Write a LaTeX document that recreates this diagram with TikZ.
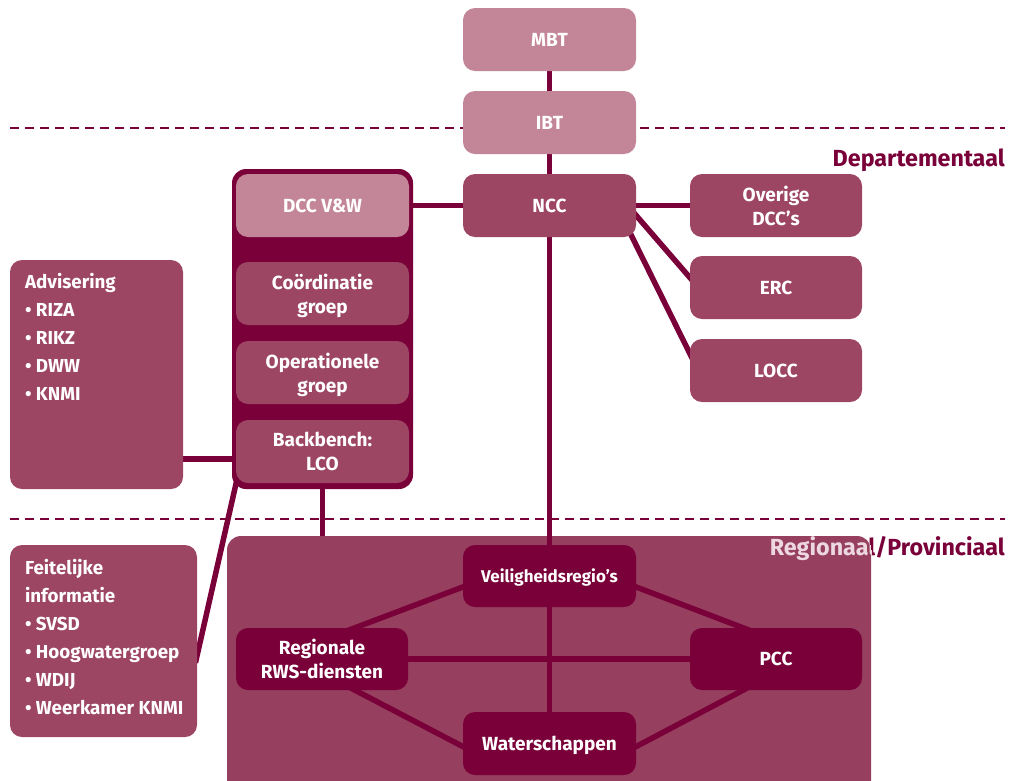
\documentclass[tikz,border=0pt]{standalone}
\usepackage{fontspec}
\setmainfont{Fira Sans}
\usetikzlibrary{calc}
\definecolor{lpink}{HTML}{C38698}
\definecolor{mpink}{HTML}{9D4664}
\definecolor{dpurple}{HTML}{790038}
\definecolor{regfill}{HTML}{963F5E}
\definecolor{ltext}{HTML}{EDD8E0}
\pgfdeclarelayer{back}
\pgfdeclarelayer{bg}
\pgfsetlayers{back,bg,main}
\begin{document}
\begin{tikzpicture}[x=1pt,y=-1pt,
  box/.style={rounded corners=12pt, minimum width=173pt, minimum height=63pt, inner sep=0pt,
    text depth=0pt, align=center, text=white, font=\bfseries\fontsize{19}{24}\selectfont},
  lbox/.style={box, fill=lpink},
  mbox/.style={box, fill=mpink},
  dbox/.style={box, fill=dpurple, minimum height=62pt},
  listtext/.style={anchor=north west, inner sep=0pt, align=left, text=white,
    font=\bfseries\fontsize{18.8}{28}\selectfont},
  conn/.style={draw=dpurple, line width=5.5pt},
  sep/.style={draw=dpurple, line width=2.5pt, dash pattern=on 9pt off 6pt},
  level/.style={anchor=base east, inner sep=0pt, text=dpurple, font=\bfseries\fontsize{23.3}{26}\selectfont}
]
\useasboundingbox (0,0) rectangle (1014,780);
\clip (0,0) rectangle (1014,780);

% separators and region background
\begin{pgfonlayer}{back}
\coordinate (s1l) at (10,128);
\coordinate (s1r) at (1005,128);
\coordinate (s2l) at (10,519);
\coordinate (s2r) at (1005,519);
\draw[sep] (s1l) -- (s1r);
\draw[sep] (s2l) -- (s2r);
\node[level] (deplabel) at (1005,166) {Departementaal};
\node[level] (reglabel) at (1005,555) {Regionaal/Provinciaal};
\node[fill=regfill, rounded corners=14pt, minimum width=644pt, minimum height=264pt, inner sep=0pt] (reg) at (549,668) {};
\begin{scope}
\clip[rounded corners=14pt] (227,536) rectangle (871,800);
\node[level, text=ltext] (reglabel2) at (1005,555) {Regionaal/Provinciaal};
\end{scope}
\end{pgfonlayer}

% top column
\node[lbox] (mbt) at (549.5,39.5) {MBT};
\node[lbox] (ibt) at (549.5,122.5) {IBT};
\node[mbox] (ncc) at (549.5,205.5) {NCC};

% DCC container
\node[fill=dpurple, rounded corners=14pt, minimum width=181pt, minimum height=320pt, inner sep=0pt] (dcc) at (322.5,329) {};
\node[lbox] (dccvw) at (322.5,205.5) {DCC V\&W};
\node[mbox] (coord) at (322.5,293.5) {Coördinatie\\groep};
\node[mbox] (oper) at (322.5,372.5) {Operationele\\groep};
\node[mbox] (back) at (322.5,451.5) {Backbench:\\LCO};

% right column
\node[mbox, minimum width=172pt] (overige) at (776,205.5) {Overige\\DCC’s};
\node[mbox, minimum width=172pt] (erc) at (776,287.5) {ERC};
\node[mbox, minimum width=172pt] (locc) at (776,370.5) {LOCC};

% info boxes
\node[mbox, minimum height=229pt] (adv) at (96.5,374.5) {};
\node[listtext] (advtext) at ($(adv.north west)+(15,13)$) {Advisering\\\textbullet\ RIZA\\\textbullet\ RIKZ\\\textbullet\ DWW\\\textbullet\ KNMI};
\node[mbox, minimum width=187pt, minimum height=192pt] (feit) at (103.5,641) {};
\node[listtext] (feittext) at ($(feit.north west)+(15,14)$) {Feitelijke\\informatie\\\textbullet\ SVSD\\\textbullet\ Hoogwatergroep\\\textbullet\ WDIJ\\\textbullet\ Weerkamer KNMI};

% regional nodes
\node[dbox, font=\bfseries\fontsize{17}{22}\selectfont] (veil) at (549.5,576) {Veiligheidsregio’s};
\node[dbox, minimum width=172pt] (rws) at (322,659) {Regionale\\RWS-diensten};
\node[dbox, minimum width=172pt] (pcc) at (776,659) {PCC};
\node[dbox, minimum height=63pt] (water) at (549.5,743.5) {Waterschappen};

% connectors
\begin{pgfonlayer}{bg}
\draw[conn] (mbt) -- (ibt);
\draw[conn] (ibt) -- (ncc);
\draw[conn] (ncc.center) -- (veil.center);
\draw[conn] (veil.center) -- (water.center);
\draw[conn] (ncc) -- (dcc.east |- ncc);
\draw[conn] (ncc) -- (overige);
\draw[conn, shorten <=-8pt, shorten >=-8pt] ($(ncc.east)+(0,10)$) -- ($(erc.west)+(0,-10)$);
\draw[conn, shorten <=-8pt, shorten >=-8pt] ($(ncc.south east)+(-4,0)$) -- ($(locc.west)+(0,-17)$);
\coordinate (advc) at ($(back.west)+(0,7.5)$);
\draw[conn] (advc -| adv.east) -- (advc);
\draw[conn, shorten <=-8pt, shorten >=-8pt] ($(dcc.south west)+(5,-9)$) -- ($(feit.east)+(0,14)$);
\draw[conn] (dcc.south) -- (dcc.south |- reg.north);
\draw[conn] (rws) -- (pcc);
\draw[conn, shorten <=-8pt, shorten >=-8pt] ($(veil.west)+(0,11)$) -- ($(rws.north)+(33,0)$);
\draw[conn, shorten <=-8pt, shorten >=-8pt] ($(veil.east)+(0,11)$) -- ($(pcc.north)+(-33,0)$);
\draw[conn, shorten <=-8pt, shorten >=-8pt] ($(water.west)+(0,3)$) -- ($(rws.south)+(33,0)$);
\draw[conn, shorten <=-8pt, shorten >=-8pt] ($(water.east)+(0,3)$) -- ($(pcc.south)+(-33,0)$);
\end{pgfonlayer}
\end{tikzpicture}
\end{document}
